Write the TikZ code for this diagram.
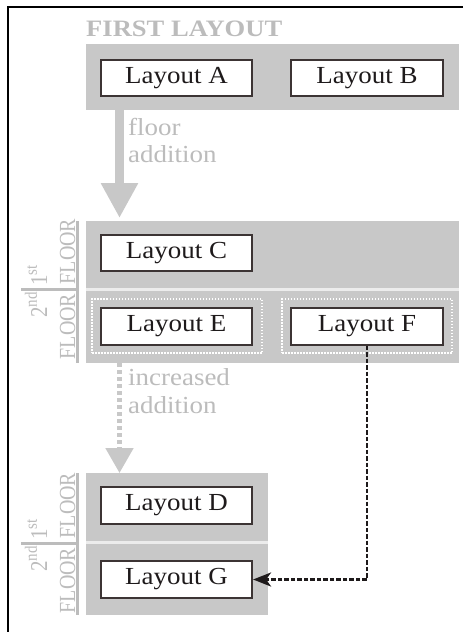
\documentclass[tikz,border=0pt]{standalone}
\usepackage{fontspec}
\setmainfont{Liberation Serif}
\usetikzlibrary{arrows.meta}
\definecolor{bandc}{RGB}{200,200,200}
\definecolor{lbl}{RGB}{188,188,188}
\definecolor{sepc}{RGB}{236,236,236}
\definecolor{boxline}{RGB}{60,52,52}
\definecolor{ink}{RGB}{30,26,27}
\newcommand{\hstretch}[1]{\scalebox{1.1}[1]{#1}}
\newcommand{\vstretch}[1]{\scalebox{1}[1.15]{#1}}
\newcommand{\supr}[1]{\raisebox{0.42em}{\fontsize{15}{16}\selectfont #1}}
\begin{document}
\begin{tikzpicture}[x=1pt,y=-1pt,
  lbox/.style={draw=boxline, line width=1.6pt, fill=white, minimum width=151.5pt,
    minimum height=36.5pt, inner sep=0pt, font=\fontsize{24.5}{28}\selectfont, text=ink},
  bandbox/.style={fill=bandc, draw=none, inner sep=0pt},
  gtext/.style={text=lbl, font=\fontsize{24.5}{28}\selectfont, inner sep=0pt, anchor=base west},
  rtext/.style={text=lbl, font=\fontsize{20}{22}\selectfont, inner sep=0pt, rotate=90},
  ntext/.style={text=lbl, font=\fontsize{21}{22}\selectfont, inner sep=0pt, rotate=90},
  rule/.style={draw=lbl, line width=3pt},
  sepline/.style={draw=sepc, line width=3pt},
  dotbox/.style={draw=white, line width=1.5pt, dash pattern=on 1.5pt off 1.5pt,
    minimum width=170pt, minimum height=54pt, inner sep=0pt},
  bigarrow/.style={draw=bandc, line width=9pt, -{Triangle[length=35pt,width=35pt]}},
  dotarrow/.style={draw=bandc, line width=5pt, dash pattern=on 4pt off 3pt,
    -{Triangle[length=25pt,width=27pt]}},
  linkarrow/.style={draw=ink, line width=2.8pt, dash pattern=on 4.5pt off 2pt,
    -{Stealth[length=18pt,width=14pt,inset=5pt]}}
]
\useasboundingbox (0,0) rectangle (468,632);
\fill[white] (0,0) rectangle (468,632);

% frame (top and left)
\draw[line width=2pt, draw=black] (463,6.5) -- (7.5,6.5) -- (7.5,632);

% title
\node[gtext, font=\bfseries\fontsize{23.5}{28}\selectfont] (title) at (86,36) {\scalebox{1.13}[1]{FIRST LAYOUT}};

% bands
\node[bandbox, minimum width=373pt, minimum height=66pt] (first) at (272.5,77) {};
\node[bandbox, minimum width=373pt, minimum height=142pt] (second) at (272.5,292) {};
\node[bandbox, minimum width=182pt, minimum height=142pt] (third) at (177,544) {};
\draw[sepline] (86,289.5) -- (459,289.5);
\draw[sepline] (86,542.5) -- (268,542.5);

% dotted frames
\node[dotbox] (Eframe) at (177,326) {};
\node[dotbox] (Fframe) at (367,326) {};

% layout boxes
\node[lbox] (A) at (176.5,78) {\hstretch{Layout A}};
\node[lbox] (B) at (367,78) {\hstretch{Layout B}};
\node[lbox] (C) at (176.5,253) {\hstretch{Layout C}};
\node[lbox] (E) at (176.5,326.5) {\hstretch{Layout E}};
\node[lbox] (F) at (367,326.5) {\hstretch{Layout F}};
\node[lbox] (D) at (176.5,505.5) {\hstretch{Layout D}};
\node[lbox] (G) at (176.5,579.5) {\hstretch{Layout G}};

% floor addition arrow
\coordinate (a1s) at (119.5,110);
\coordinate (a1e) at (119.5,218);
\draw[bigarrow] (a1s) -- (a1e);
\node[gtext] (fl1) at (128,135) {\hstretch{floor}};
\node[gtext] (fl2) at (128,162.5) {\hstretch{addition}};

% increased addition arrow
\coordinate (a2s) at (119.5,363);
\coordinate (a2e) at (119.5,473);
\draw[dotarrow] (a2s) -- (a2e);
\node[gtext] (in1) at (128,385) {\hstretch{increased}};
\node[gtext] (in2) at (128,413.5) {\hstretch{addition}};

% link F -> G
\draw[linkarrow] (F.south) |- (G.east);

% floor labels, second band
\draw[rule] (77,221) -- (77,363);
\draw[rule] (21,289) -- (77,289);
\node[ntext, anchor=base west] (s1a) at (47,286) {\vstretch{1\supr{st}}};
\node[rtext, anchor=base west] (s1b) at (75,284.5) {\vstretch{FLOOR}};
\node[ntext, anchor=base east] (s2a) at (47,292) {\vstretch{2\supr{nd}}};
\node[rtext, anchor=base east] (s2b) at (75,293.5) {\vstretch{FLOOR}};

% floor labels, third band
\draw[rule] (77,473) -- (77,615);
\draw[rule] (21,543) -- (77,543);
\node[ntext, anchor=base west] (t1a) at (47,540) {\vstretch{1\supr{st}}};
\node[rtext, anchor=base west] (t1b) at (75,538.5) {\vstretch{FLOOR}};
\node[ntext, anchor=base east] (t2a) at (47,546) {\vstretch{2\supr{nd}}};
\node[rtext, anchor=base east] (t2b) at (75,547.5) {\vstretch{FLOOR}};
\end{tikzpicture}
\end{document}
